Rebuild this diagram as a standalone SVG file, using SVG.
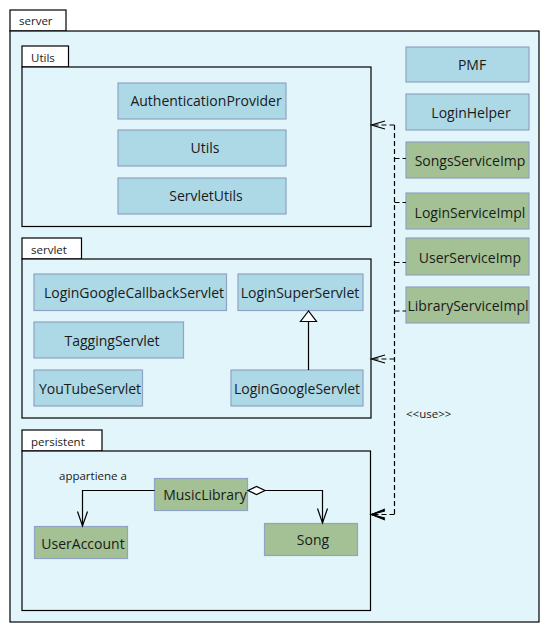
<svg xmlns="http://www.w3.org/2000/svg" width="549" height="633" viewBox="0 0 549 633">
<style>
.pkg{fill:#e2f5fb;stroke:#000;stroke-width:1.2}
.tab{fill:#ffffff;stroke:#000;stroke-width:1.2}
.blue{fill:#add8e6;stroke:#8fa3c4;stroke-width:1.2}
.green{fill:#a3c194;stroke:#8fa3c4;stroke-width:1.2}
text{font-family:"Open Sans","DejaVu Sans",sans-serif;fill:#1a1a1a}
.lbl{font-size:14px;text-anchor:middle}
.ptxt{font-size:11.5px}
.small{font-size:11.5px}
.dash{fill:none;stroke:#000;stroke-width:1.2;stroke-dasharray:5,3}
.solid{fill:none;stroke:#000;stroke-width:1.2}
</style>
<rect width="549" height="633" fill="#ffffff"/>

<g id="pkg-server">
<rect class="tab" x="10" y="10" width="56" height="21"/>
<rect class="pkg" x="10" y="31" width="529" height="591"/>
<text class="ptxt" x="19" y="25">server</text>
</g>

<g id="pkg-utils">
<rect class="tab" x="22" y="46" width="46.5" height="21"/>
<rect class="pkg" x="22" y="67" width="349" height="159.5"/>
<text class="ptxt" x="31" y="62">Utils</text>
</g>

<g id="pkg-servlet">
<rect class="tab" x="22" y="238" width="59.5" height="21"/>
<rect class="pkg" x="22" y="259" width="349" height="159"/>
<text class="ptxt" x="31" y="254">servlet</text>
</g>

<g id="pkg-persistent">
<rect class="tab" x="22" y="430" width="80" height="21"/>
<rect class="pkg" x="22" y="451" width="348.5" height="159.5"/>
<text class="ptxt" x="31" y="446">persistent</text>
</g>

<g id="AuthenticationProvider"><rect class="blue" x="118" y="83" width="168" height="36"/><text class="lbl" x="206" y="106">AuthenticationProvider</text></g>
<g id="Utils"><rect class="blue" x="118" y="130" width="168" height="36"/><text class="lbl" x="205" y="153">Utils</text></g>
<g id="ServletUtils"><rect class="blue" x="118" y="178" width="168" height="36"/><text class="lbl" x="206" y="201">ServletUtils</text></g>

<g id="PMF"><rect class="blue" x="406" y="47" width="123" height="35"/><text class="lbl" x="472" y="69.5">PMF</text></g>
<g id="LoginHelper"><rect class="blue" x="406" y="94" width="123" height="36"/><text class="lbl" x="471" y="117.5">LoginHelper</text></g>
<g id="SongsServiceImp"><rect class="green" x="406" y="142" width="123" height="36"/><text class="lbl" x="470" y="165.5">SongsServiceImp</text></g>
<g id="LoginServiceImpl"><rect class="green" x="406" y="193" width="123" height="36"/><text class="lbl" x="470" y="217.5">LoginServiceImpl</text></g>
<g id="UserServiceImp"><rect class="green" x="406" y="238" width="123" height="37"/><text class="lbl" x="470" y="262.5">UserServiceImp</text></g>
<g id="LibraryServiceImpl"><rect class="green" x="406" y="287" width="123" height="36"/><text class="lbl" x="468" y="310.5">LibraryServiceImpl</text></g>

<g id="LoginGoogleCallbackServlet"><rect class="blue" x="34" y="274" width="192.5" height="36.5"/><text class="lbl" x="134" y="297.5">LoginGoogleCallbackServlet</text></g>
<g id="LoginSuperServlet"><rect class="blue" x="238" y="274" width="125" height="36.5"/><text class="lbl" x="300" y="297.5">LoginSuperServlet</text></g>
<g id="TaggingServlet"><rect class="blue" x="34" y="322" width="149.5" height="36"/><text class="lbl" x="112" y="345.5">TaggingServlet</text></g>
<g id="YouTubeServlet"><rect class="blue" x="34" y="370" width="108.5" height="36"/><text class="lbl" x="90" y="393.5">YouTubeServlet</text></g>
<g id="LoginGoogleServlet"><rect class="blue" x="231" y="370" width="132" height="36"/><text class="lbl" x="297" y="393.5">LoginGoogleServlet</text></g>

<g id="MusicLibrary"><rect class="green" x="154.5" y="478.5" width="93" height="32"/><text class="lbl" x="205" y="499.5">MusicLibrary</text></g>
<g id="UserAccount"><rect class="green" x="34.5" y="526.5" width="93" height="32"/><text class="lbl" x="83" y="548.5">UserAccount</text></g>
<g id="Song"><rect class="green" x="264.5" y="523.5" width="93" height="32"/><text class="lbl" x="313" y="545">Song</text></g>

<g id="connectors">
<!-- generalization -->
<line class="solid" x1="308.5" y1="321.5" x2="308.5" y2="370"/>
<polygon points="308.5,311 300.5,321.5 316.5,321.5" fill="#ffffff" stroke="#000" stroke-width="1.2"/>
<!-- association appartiene a -->
<polyline class="solid" points="154.5,490.5 82.5,490.5 82.5,526"/>
<polyline class="solid" points="77.5,511.5 82.5,526 87.5,511.5"/>
<text class="small" x="59" y="480">appartiene a</text>
<!-- aggregation to Song -->
<polyline class="solid" points="265,490.5 322.5,490.5 322.5,523"/>
<polygon points="248,490.5 256.5,486.5 265,490.5 256.5,494.5" fill="#ffffff" stroke="#000" stroke-width="1.2"/>
<polyline class="solid" points="317.5,508.5 322.5,523 327.5,508.5"/>
<!-- use dependencies -->
<line class="dash" x1="394.5" y1="125" x2="394.5" y2="514.5"/>
<line class="dash" x1="394.5" y1="125" x2="372" y2="125"/>
<polyline class="solid" points="385,121 371.5,125 385,129"/>
<line class="dash" x1="394.5" y1="158.5" x2="406" y2="158.5"/>
<line class="dash" x1="394.5" y1="202.5" x2="406" y2="202.5"/>
<line class="dash" x1="394.5" y1="262.5" x2="406" y2="262.5"/>
<line class="dash" x1="394.5" y1="311" x2="406" y2="311"/>
<line class="dash" x1="394.5" y1="359" x2="372" y2="359"/>
<polyline class="solid" points="385,355 371.5,359 385,363"/>
<line class="dash" x1="394.5" y1="514.5" x2="372" y2="514.5"/>
<polyline class="solid" points="385,510 371.5,514.5 385,519"/>
<polyline class="solid" points="385,509 371.5,514.5 385,520"/>
<polyline class="solid" points="385,511 371.5,514.5 385,518" stroke-width="2"/>
<text class="small" x="406" y="418">&lt;&lt;use&gt;&gt;</text>
</g>
</svg>
